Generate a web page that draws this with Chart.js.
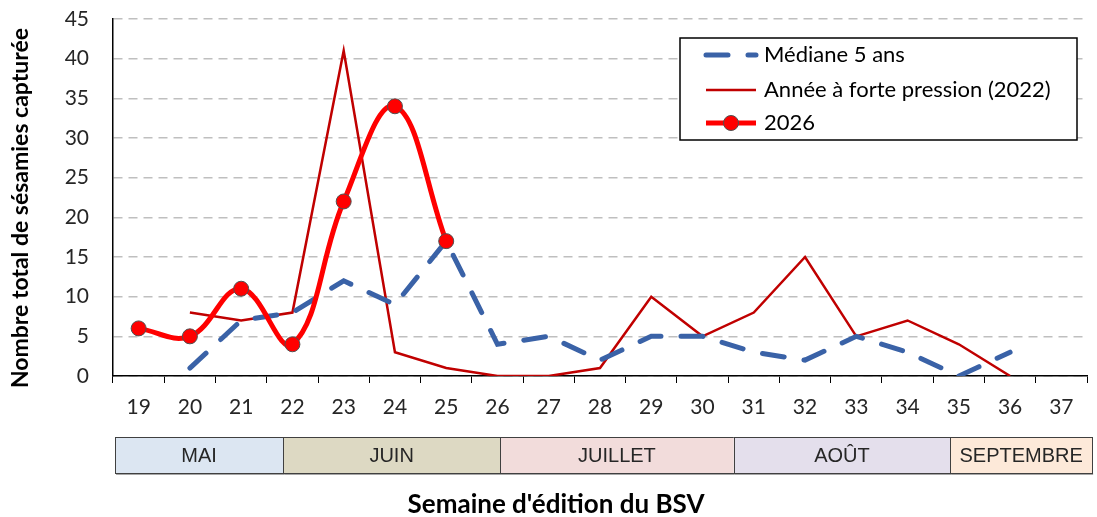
<!DOCTYPE html>
<html lang="fr">
<head>
<meta charset="UTF-8">
<title>Sésamies capturées par semaine</title>
<style>
    body { margin: 0; background: #fff; }
    #wrap { position: relative; width: 1097px; height: 517px; }
</style>
</head>
<body>
<div id="wrap"><canvas id="chart"></canvas></div>
<script src="https://cdn.jsdelivr.net/npm/chart.js"></script>
<script>
// Semaines d'édition du BSV
const semaines = ['19','20','21','22','23','24','25','26','27','28','29','30','31','32','33','34','35','36','37'];

// Séries
const mediane5ans = [null, 1, 7, 8, 12, 9, 17, 4, 5, 2, 5, 5, 3, 2, 5, 3, 0, 3, null];
const annee2022   = [null, 8, 7, 8, 41, 3, 1, 0, 0, 1, 10, 5, 8, 15, 5, 7, 4, 0, null];
const annee2026   = [6, 5, 11, 4, 22, 34, 17, null, null, null, null, null, null, null, null, null, null, null, null];

// Axe Y
const yMax = 45;
const yStep = 5;

// Bandeau des mois (limites exprimées en semaines)
const mois = ['MAI', 'JUIN', 'JUILLET', 'AOÛT', 'SEPTEMBRE'];
const moisLimites = [18.54, 21.82, 26.05, 30.61, 34.83, 37.6];
const moisCouleurs = ['#dce6f2', '#ddd9c3', '#f2dcdb', '#e4dfec', '#fde9d9'];

const titreX = "Semaine d'édition du BSV";
const titreY = 'Nombre total de sésamies capturée';

const FONT = "Lato, 'Open Sans', sans-serif";

// Bandeau des mois + titres des axes
const bandeauMois = {
    id: 'bandeauMois',
    afterDraw(chart) {
        const ctx = chart.ctx;
        const x = chart.scales.x;
        const top = 437, h = 36;
        ctx.save();
        for (let i = 0; i < mois.length; i++) {
            const x0 = x.getPixelForValue(moisLimites[i] - 19);
            const x1 = x.getPixelForValue(moisLimites[i + 1] - 19);
            ctx.fillStyle = '#a6a6a6';
            ctx.fillRect(x0 + 1, top + h, x1 - x0, 2);
            ctx.fillStyle = moisCouleurs[i];
            ctx.fillRect(x0, top, x1 - x0, h);
            ctx.strokeStyle = '#404040';
            ctx.lineWidth = 1;
            ctx.strokeRect(Math.round(x0) + 0.5, top + 0.5, Math.round(x1 - x0), h);
            ctx.fillStyle = '#262626';
            ctx.font = "20px 'Liberation Sans', Arial, sans-serif";
            ctx.textAlign = 'center';
            ctx.textBaseline = 'middle';
            ctx.fillText(mois[i], (x0 + x1) / 2, top + h / 2 + 1);
        }
        ctx.fillStyle = '#000';
        ctx.font = 'bold 26px ' + FONT;
        ctx.textAlign = 'center';
        ctx.textBaseline = 'middle';
        ctx.fillText(titreX, 556, 505);

        ctx.translate(21, 208);
        ctx.rotate(-Math.PI / 2);
        ctx.font = 'bold 23px ' + FONT;
        ctx.fillText(titreY, 0, 0);
        ctx.restore();
    }
};

// Légende encadrée dans la zone du graphique
const legendeBoite = {
    id: 'legendeBoite',
    afterDraw(chart) {
        const ctx = chart.ctx;
        const bx = 680, by = 38, bw = 397, bh = 102;
        const rows = [55, 90, 123];
        ctx.save();
        ctx.fillStyle = '#fff';
        ctx.fillRect(bx, by, bw, bh);
        ctx.strokeStyle = '#000';
        ctx.lineWidth = 1.5;
        ctx.strokeRect(bx, by, bw, bh);
        chart.data.datasets.forEach((ds, i) => {
            const y = rows[i];
            ctx.save();
            ctx.strokeStyle = ds.borderColor;
            ctx.lineWidth = ds.borderWidth;
            ctx.lineCap = ds.borderCapStyle || 'butt';
            ctx.setLineDash(ds.borderDash || []);
            ctx.beginPath();
            ctx.moveTo(706, y);
            ctx.lineTo(756, y);
            ctx.stroke();
            ctx.restore();
            if (ds.pointRadius > 0) {
                ctx.beginPath();
                ctx.arc(731, y, ds.pointRadius, 0, Math.PI * 2);
                ctx.fillStyle = ds.pointBackgroundColor;
                ctx.fill();
                ctx.strokeStyle = ds.pointBorderColor;
                ctx.lineWidth = ds.pointBorderWidth;
                ctx.stroke();
            }
            ctx.fillStyle = '#000';
            ctx.font = '22px ' + FONT;
            ctx.textAlign = 'left';
            ctx.textBaseline = 'middle';
            ctx.fillText(ds.label, 764, y);
        });
        ctx.restore();
    }
};

new Chart(document.getElementById('chart'), {
    type: 'line',
    data: {
        labels: semaines,
        datasets: [
            {
                label: 'Médiane 5 ans',
                data: mediane5ans,
                borderColor: '#3a62a7',
                borderWidth: 5,
                borderDash: [22, 20],
                borderCapStyle: 'round',
                pointRadius: 0,
                tension: 0,
                order: 1
            },
            {
                label: 'Année à forte pression (2022)',
                data: annee2022,
                borderColor: '#c00000',
                borderWidth: 2.5,
                pointRadius: 0,
                tension: 0,
                order: 2
            },
            {
                label: '2026',
                data: annee2026,
                borderColor: '#ff0000',
                borderWidth: 5,
                pointRadius: 7.5,
                pointBackgroundColor: '#ff0000',
                pointBorderColor: '#505050',
                pointBorderWidth: 1,
                tension: 0.4,
                order: 0
            }
        ]
    },
    options: {
        responsive: true,
        maintainAspectRatio: false,
        animation: false,
        layout: { padding: { top: 19, right: 10, left: 0, bottom: 0 } },
        plugins: {
            legend: { display: false },
            tooltip: { enabled: false }
        },
        scales: {
            x: {
                offset: true,
                afterFit: s => { s.height = 141; },
                grid: {
                    offset: true,
                    drawOnChartArea: false,
                    drawTicks: true,
                    tickLength: 7,
                    color: '#000',
                    lineWidth: 1
                },
                border: { color: '#000', width: 1.5 },
                ticks: {
                    color: '#262626',
                    font: { family: FONT, size: 21 },
                    padding: 12,
                    maxRotation: 0,
                    autoSkip: false
                }
            },
            y: {
                min: 0,
                max: yMax,
                afterFit: s => {
                    s.width = 113;
                    s.paddingTop = 0;
                    s.paddingBottom = 0;
                },
                ticks: {
                    stepSize: yStep,
                    color: '#262626',
                    font: { family: FONT, size: 21 },
                    padding: 24
                },
                grid: {
                    drawTicks: false,
                    color: '#bfbfbf',
                    lineWidth: 1.5
                },
                border: { color: '#000', width: 1.5, dash: [9, 6] }
            }
        }
    },
    plugins: [bandeauMois, legendeBoite]
});
</script>
</body>
</html>
